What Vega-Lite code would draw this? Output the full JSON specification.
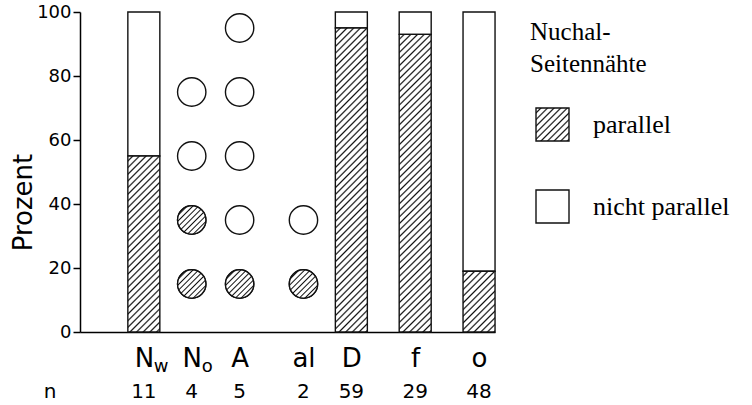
{
"$schema": "https://vega.github.io/schema/vega-lite/v6.json",
"width": 415, "height": 320,
"autosize": "none",
"padding": {"left": 80, "top": 12, "right": 257, "bottom": 73},
"background": "white",
"config": {"view": {"stroke": null}, "font": "DejaVu Sans"},
"datasets": {
"balken": [
{"kat": "N_w", "parallel": 55, "nicht_parallel": 45},
{"kat": "D", "parallel": 95, "nicht_parallel": 5},
{"kat": "f", "parallel": 93, "nicht_parallel": 7},
{"kat": "o", "parallel": 19, "nicht_parallel": 81}
],
"kreise": [
{"kat": "N_o", "wert": 15, "typ": "parallel"},
{"kat": "N_o", "wert": 35, "typ": "parallel"},
{"kat": "N_o", "wert": 55, "typ": "nicht parallel"},
{"kat": "N_o", "wert": 75, "typ": "nicht parallel"},
{"kat": "A", "wert": 15, "typ": "parallel"},
{"kat": "A", "wert": 35, "typ": "nicht parallel"},
{"kat": "A", "wert": 55, "typ": "nicht parallel"},
{"kat": "A", "wert": 75, "typ": "nicht parallel"},
{"kat": "A", "wert": 95, "typ": "nicht parallel"},
{"kat": "al", "wert": 15, "typ": "parallel"},
{"kat": "al", "wert": 35, "typ": "nicht parallel"}
],
"kategorien": [
{"kat": "N_w", "n": 11, "sub": "w"},
{"kat": "N_o", "n": 4, "sub": "o"},
{"kat": "A", "n": 5},
{"kat": "al", "n": 2},
{"kat": "D", "n": 59},
{"kat": "f", "n": 29},
{"kat": "o", "n": 48}
]
},
"encoding": {
"x": {"field": "kat", "type": "nominal",
"scale": {"type": "point", "padding": 0, "domain": ["s0","s1","s2","s3","N_w","s4","s5","N_o","s6","s7","A","s8","s9","s10","al","s11","s12","D","s13","s14","s15","f","s16","s17","s18","o","s19"]},
"axis": {"title": null, "ticks": false, "tickSize": 0, "labelAngle": 0, "labelOverlap": false, "labelFlush": false,
"labelExpr": "datum.value === 'N_w' || datum.value === 'N_o' ? 'N' : (indexof(['A','al','D','f','o'], datum.value) >= 0 ? datum.value : '')",
"labelFont": "DejaVu Sans", "labelFontSize": 26, "labelColor": "#000", "labelPadding": 34, "labelBaseline": "alphabetic",
"domainColor": "#000", "domainWidth": 1.5}}
},
"layer": [
{
"data": {"name": "balken"},
"mark": {"type": "bar", "width": 32, "fill": "#fff", "stroke": "#111", "strokeWidth": 1.4},
"encoding": {
"y": {"field": "parallel", "type": "quantitative", "scale": {"domain": [0, 100]}, "title": "Prozent",
"axis": {"values": [0,10,20,30,40,50,60,70,80,90,100], "grid": false,
"labelExpr": "datum.value % 20 === 0 ? datum.label : ''",
"tickSize": {"condition": {"test": "datum.value % 20 === 0", "value": 7}, "value": 4},
"tickColor": "#000", "tickWidth": 1.5, "domainColor": "#000", "domainWidth": 1.5,
"labelFont": "DejaVu Sans", "labelFontSize": 18, "labelColor": "#000", "labelPadding": 2,
"titleFont": "DejaVu Sans", "titleFontSize": 26, "titleFontWeight": "normal", "titleColor": "#000", "titlePadding": 0, "titleY": 190}},
"y2": {"datum": 100}
}
},
{
"data": {"name": "balken"},
"transform": [{"filter": "datum.kat === 'N_w'"}],
"mark": {"type": "bar", "width": 32, "stroke": "#111", "strokeWidth": 1.4,
"fill": {"gradient": "linear", "x1": 0, "y1": 0, "x2": 0.208, "y2": 1.144, "stops": [
{"offset":0,"color":"#fff"},
{"offset":0.016,"color":"#fff"},{"offset":0.024,"color":"#111"},{"offset":0.032,"color":"#fff"},
{"offset":0.048,"color":"#fff"},{"offset":0.056,"color":"#111"},{"offset":0.064,"color":"#fff"},
{"offset":0.08,"color":"#fff"},{"offset":0.088,"color":"#111"},{"offset":0.096,"color":"#fff"},
{"offset":0.112,"color":"#fff"},{"offset":0.12,"color":"#111"},{"offset":0.128,"color":"#fff"},
{"offset":0.144,"color":"#fff"},{"offset":0.152,"color":"#111"},{"offset":0.16,"color":"#fff"},
{"offset":0.176,"color":"#fff"},{"offset":0.184,"color":"#111"},{"offset":0.192,"color":"#fff"},
{"offset":0.208,"color":"#fff"},{"offset":0.216,"color":"#111"},{"offset":0.224,"color":"#fff"},
{"offset":0.24,"color":"#fff"},{"offset":0.248,"color":"#111"},{"offset":0.256,"color":"#fff"},
{"offset":0.272,"color":"#fff"},{"offset":0.28,"color":"#111"},{"offset":0.288,"color":"#fff"},
{"offset":0.304,"color":"#fff"},{"offset":0.312,"color":"#111"},{"offset":0.32,"color":"#fff"},
{"offset":0.336,"color":"#fff"},{"offset":0.344,"color":"#111"},{"offset":0.352,"color":"#fff"},
{"offset":0.368,"color":"#fff"},{"offset":0.376,"color":"#111"},{"offset":0.384,"color":"#fff"},
{"offset":0.4,"color":"#fff"},{"offset":0.408,"color":"#111"},{"offset":0.416,"color":"#fff"},
{"offset":0.432,"color":"#fff"},{"offset":0.44,"color":"#111"},{"offset":0.448,"color":"#fff"},
{"offset":0.464,"color":"#fff"},{"offset":0.472,"color":"#111"},{"offset":0.48,"color":"#fff"},
{"offset":0.496,"color":"#fff"},{"offset":0.504,"color":"#111"},{"offset":0.512,"color":"#fff"},
{"offset":0.528,"color":"#fff"},{"offset":0.536,"color":"#111"},{"offset":0.544,"color":"#fff"},
{"offset":0.56,"color":"#fff"},{"offset":0.568,"color":"#111"},{"offset":0.576,"color":"#fff"},
{"offset":0.592,"color":"#fff"},{"offset":0.6,"color":"#111"},{"offset":0.608,"color":"#fff"},
{"offset":0.624,"color":"#fff"},{"offset":0.632,"color":"#111"},{"offset":0.64,"color":"#fff"},
{"offset":0.656,"color":"#fff"},{"offset":0.664,"color":"#111"},{"offset":0.672,"color":"#fff"},
{"offset":0.688,"color":"#fff"},{"offset":0.696,"color":"#111"},{"offset":0.704,"color":"#fff"},
{"offset":0.72,"color":"#fff"},{"offset":0.728,"color":"#111"},{"offset":0.736,"color":"#fff"},
{"offset":0.752,"color":"#fff"},{"offset":0.76,"color":"#111"},{"offset":0.768,"color":"#fff"},
{"offset":0.784,"color":"#fff"},{"offset":0.792,"color":"#111"},{"offset":0.8,"color":"#fff"},
{"offset":0.816,"color":"#fff"},{"offset":0.824,"color":"#111"},{"offset":0.832,"color":"#fff"},
{"offset":0.848,"color":"#fff"},{"offset":0.856,"color":"#111"},{"offset":0.864,"color":"#fff"},
{"offset":0.88,"color":"#fff"},{"offset":0.888,"color":"#111"},{"offset":0.896,"color":"#fff"},
{"offset":0.912,"color":"#fff"},{"offset":0.92,"color":"#111"},{"offset":0.928,"color":"#fff"},
{"offset":0.944,"color":"#fff"},{"offset":0.952,"color":"#111"},{"offset":0.96,"color":"#fff"},
{"offset":0.976,"color":"#fff"},{"offset":0.984,"color":"#111"},{"offset":0.992,"color":"#fff"},
{"offset":1,"color":"#fff"}
]}},
"encoding": {
"y": {"field": "parallel", "type": "quantitative", "scale": {"domain": [0, 100]}, "title": "Prozent"}
}
},
{
"data": {"name": "balken"},
"transform": [{"filter": "datum.kat === 'D' || datum.kat === 'f'"}],
"mark": {"type": "bar", "width": 32, "stroke": "#111", "strokeWidth": 1.4,
"fill": {"gradient": "linear", "x1": 0, "y1": 0, "x2": 0.116, "y2": 1.094, "stops": [
{"offset":0,"color":"#fff"},
{"offset":0.01,"color":"#fff"},{"offset":0.015,"color":"#111"},{"offset":0.02,"color":"#fff"},
{"offset":0.03,"color":"#fff"},{"offset":0.035,"color":"#111"},{"offset":0.04,"color":"#fff"},
{"offset":0.05,"color":"#fff"},{"offset":0.055,"color":"#111"},{"offset":0.06,"color":"#fff"},
{"offset":0.07,"color":"#fff"},{"offset":0.075,"color":"#111"},{"offset":0.08,"color":"#fff"},
{"offset":0.09,"color":"#fff"},{"offset":0.095,"color":"#111"},{"offset":0.1,"color":"#fff"},
{"offset":0.11,"color":"#fff"},{"offset":0.115,"color":"#111"},{"offset":0.12,"color":"#fff"},
{"offset":0.13,"color":"#fff"},{"offset":0.135,"color":"#111"},{"offset":0.14,"color":"#fff"},
{"offset":0.15,"color":"#fff"},{"offset":0.155,"color":"#111"},{"offset":0.16,"color":"#fff"},
{"offset":0.17,"color":"#fff"},{"offset":0.175,"color":"#111"},{"offset":0.18,"color":"#fff"},
{"offset":0.19,"color":"#fff"},{"offset":0.195,"color":"#111"},{"offset":0.2,"color":"#fff"},
{"offset":0.21,"color":"#fff"},{"offset":0.215,"color":"#111"},{"offset":0.22,"color":"#fff"},
{"offset":0.23,"color":"#fff"},{"offset":0.235,"color":"#111"},{"offset":0.24,"color":"#fff"},
{"offset":0.25,"color":"#fff"},{"offset":0.255,"color":"#111"},{"offset":0.26,"color":"#fff"},
{"offset":0.27,"color":"#fff"},{"offset":0.275,"color":"#111"},{"offset":0.28,"color":"#fff"},
{"offset":0.29,"color":"#fff"},{"offset":0.295,"color":"#111"},{"offset":0.3,"color":"#fff"},
{"offset":0.31,"color":"#fff"},{"offset":0.315,"color":"#111"},{"offset":0.32,"color":"#fff"},
{"offset":0.33,"color":"#fff"},{"offset":0.335,"color":"#111"},{"offset":0.34,"color":"#fff"},
{"offset":0.35,"color":"#fff"},{"offset":0.355,"color":"#111"},{"offset":0.36,"color":"#fff"},
{"offset":0.37,"color":"#fff"},{"offset":0.375,"color":"#111"},{"offset":0.38,"color":"#fff"},
{"offset":0.39,"color":"#fff"},{"offset":0.395,"color":"#111"},{"offset":0.4,"color":"#fff"},
{"offset":0.41,"color":"#fff"},{"offset":0.415,"color":"#111"},{"offset":0.42,"color":"#fff"},
{"offset":0.43,"color":"#fff"},{"offset":0.435,"color":"#111"},{"offset":0.44,"color":"#fff"},
{"offset":0.45,"color":"#fff"},{"offset":0.455,"color":"#111"},{"offset":0.46,"color":"#fff"},
{"offset":0.47,"color":"#fff"},{"offset":0.475,"color":"#111"},{"offset":0.48,"color":"#fff"},
{"offset":0.49,"color":"#fff"},{"offset":0.495,"color":"#111"},{"offset":0.5,"color":"#fff"},
{"offset":0.51,"color":"#fff"},{"offset":0.515,"color":"#111"},{"offset":0.52,"color":"#fff"},
{"offset":0.53,"color":"#fff"},{"offset":0.535,"color":"#111"},{"offset":0.54,"color":"#fff"},
{"offset":0.55,"color":"#fff"},{"offset":0.555,"color":"#111"},{"offset":0.56,"color":"#fff"},
{"offset":0.57,"color":"#fff"},{"offset":0.575,"color":"#111"},{"offset":0.58,"color":"#fff"},
{"offset":0.59,"color":"#fff"},{"offset":0.595,"color":"#111"},{"offset":0.6,"color":"#fff"},
{"offset":0.61,"color":"#fff"},{"offset":0.615,"color":"#111"},{"offset":0.62,"color":"#fff"},
{"offset":0.63,"color":"#fff"},{"offset":0.635,"color":"#111"},{"offset":0.64,"color":"#fff"},
{"offset":0.65,"color":"#fff"},{"offset":0.655,"color":"#111"},{"offset":0.66,"color":"#fff"},
{"offset":0.67,"color":"#fff"},{"offset":0.675,"color":"#111"},{"offset":0.68,"color":"#fff"},
{"offset":0.69,"color":"#fff"},{"offset":0.695,"color":"#111"},{"offset":0.7,"color":"#fff"},
{"offset":0.71,"color":"#fff"},{"offset":0.715,"color":"#111"},{"offset":0.72,"color":"#fff"},
{"offset":0.73,"color":"#fff"},{"offset":0.735,"color":"#111"},{"offset":0.74,"color":"#fff"},
{"offset":0.75,"color":"#fff"},{"offset":0.755,"color":"#111"},{"offset":0.76,"color":"#fff"},
{"offset":0.77,"color":"#fff"},{"offset":0.775,"color":"#111"},{"offset":0.78,"color":"#fff"},
{"offset":0.79,"color":"#fff"},{"offset":0.795,"color":"#111"},{"offset":0.8,"color":"#fff"},
{"offset":0.81,"color":"#fff"},{"offset":0.815,"color":"#111"},{"offset":0.82,"color":"#fff"},
{"offset":0.83,"color":"#fff"},{"offset":0.835,"color":"#111"},{"offset":0.84,"color":"#fff"},
{"offset":0.85,"color":"#fff"},{"offset":0.855,"color":"#111"},{"offset":0.86,"color":"#fff"},
{"offset":0.87,"color":"#fff"},{"offset":0.875,"color":"#111"},{"offset":0.88,"color":"#fff"},
{"offset":0.89,"color":"#fff"},{"offset":0.895,"color":"#111"},{"offset":0.9,"color":"#fff"},
{"offset":0.91,"color":"#fff"},{"offset":0.915,"color":"#111"},{"offset":0.92,"color":"#fff"},
{"offset":0.93,"color":"#fff"},{"offset":0.935,"color":"#111"},{"offset":0.94,"color":"#fff"},
{"offset":0.95,"color":"#fff"},{"offset":0.955,"color":"#111"},{"offset":0.96,"color":"#fff"},
{"offset":0.97,"color":"#fff"},{"offset":0.975,"color":"#111"},{"offset":0.98,"color":"#fff"},
{"offset":0.99,"color":"#fff"},{"offset":0.995,"color":"#111"},{"offset":1,"color":"#fff"}
]}},
"encoding": {
"y": {"field": "parallel", "type": "quantitative", "scale": {"domain": [0, 100]}, "title": "Prozent"}
}
},
{
"data": {"name": "balken"},
"transform": [{"filter": "datum.kat === 'o'"}],
"mark": {"type": "bar", "width": 32, "stroke": "#111", "strokeWidth": 1.4,
"fill": {"gradient": "linear", "x1": 0, "y1": 0, "x2": 0.629, "y2": 1.195, "stops": [
{"offset":0,"color":"#fff"},
{"offset":0.036,"color":"#fff"},{"offset":0.054,"color":"#111"},{"offset":0.072,"color":"#fff"},
{"offset":0.108,"color":"#fff"},{"offset":0.126,"color":"#111"},{"offset":0.144,"color":"#fff"},
{"offset":0.18,"color":"#fff"},{"offset":0.198,"color":"#111"},{"offset":0.216,"color":"#fff"},
{"offset":0.252,"color":"#fff"},{"offset":0.27,"color":"#111"},{"offset":0.288,"color":"#fff"},
{"offset":0.324,"color":"#fff"},{"offset":0.342,"color":"#111"},{"offset":0.36,"color":"#fff"},
{"offset":0.396,"color":"#fff"},{"offset":0.414,"color":"#111"},{"offset":0.432,"color":"#fff"},
{"offset":0.468,"color":"#fff"},{"offset":0.486,"color":"#111"},{"offset":0.504,"color":"#fff"},
{"offset":0.54,"color":"#fff"},{"offset":0.558,"color":"#111"},{"offset":0.576,"color":"#fff"},
{"offset":0.612,"color":"#fff"},{"offset":0.63,"color":"#111"},{"offset":0.648,"color":"#fff"},
{"offset":0.684,"color":"#fff"},{"offset":0.702,"color":"#111"},{"offset":0.72,"color":"#fff"},
{"offset":0.756,"color":"#fff"},{"offset":0.774,"color":"#111"},{"offset":0.792,"color":"#fff"},
{"offset":0.828,"color":"#fff"},{"offset":0.846,"color":"#111"},{"offset":0.864,"color":"#fff"},
{"offset":0.9,"color":"#fff"},{"offset":0.918,"color":"#111"},{"offset":0.936,"color":"#fff"},
{"offset":0.972,"color":"#fff"},{"offset":0.99,"color":"#111"},{"offset":1,"color":"#fff"}
]}},
"encoding": {
"y": {"field": "parallel", "type": "quantitative", "scale": {"domain": [0, 100]}, "title": "Prozent"}
}
},
{
"data": {"name": "kreise"},
"mark": {"type": "circle", "size": 804, "stroke": "#111", "strokeWidth": 1.4, "opacity": 1},
"encoding": {
"y": {"field": "wert", "type": "quantitative", "scale": {"domain": [0, 100]}, "title": "Prozent"},
"fill": {"field": "typ", "type": "nominal",
"scale": {"domain": ["parallel", "nicht parallel"], "range": ["url(#schraffur_kreis)", "#ffffff"]},
"legend": {"title": ["Nuchal-", "Seitennähte"], "orient": "none", "legendX": 450, "legendY": 8,
"padding": 0, "symbolType": "square", "symbolSize": 1089, "symbolStrokeColor": "#111", "symbolStrokeWidth": 1.4,
"symbolOpacity": 1, "symbolOffset": 5,
"labelFont": "Liberation Serif", "labelFontSize": 26, "labelColor": "#000", "labelOffset": 23,
"rowPadding": 43,
"titleFont": "Liberation Serif", "titleFontSize": 25, "titleFontWeight": "normal", "titleColor": "#000",
"titleLineHeight": 32, "titlePadding": 30}}
}
},
{
"data": {"name": "kreise"},
"transform": [{"filter": "datum.typ === 'parallel'"}],
"mark": {"type": "circle", "size": 804, "stroke": "#111", "strokeWidth": 1.4, "opacity": 1,
"fill": {"gradient": "linear", "id": "schraffur_kreis", "x1": 0, "y1": 0, "x2": 1, "y2": 1, "stops": [
{"offset":0,"color":"#fff"},
{"offset":0.05,"color":"#fff"},{"offset":0.075,"color":"#111"},{"offset":0.1,"color":"#fff"},
{"offset":0.15,"color":"#fff"},{"offset":0.175,"color":"#111"},{"offset":0.2,"color":"#fff"},
{"offset":0.25,"color":"#fff"},{"offset":0.275,"color":"#111"},{"offset":0.3,"color":"#fff"},
{"offset":0.35,"color":"#fff"},{"offset":0.375,"color":"#111"},{"offset":0.4,"color":"#fff"},
{"offset":0.45,"color":"#fff"},{"offset":0.475,"color":"#111"},{"offset":0.5,"color":"#fff"},
{"offset":0.55,"color":"#fff"},{"offset":0.575,"color":"#111"},{"offset":0.6,"color":"#fff"},
{"offset":0.65,"color":"#fff"},{"offset":0.675,"color":"#111"},{"offset":0.7,"color":"#fff"},
{"offset":0.75,"color":"#fff"},{"offset":0.775,"color":"#111"},{"offset":0.8,"color":"#fff"},
{"offset":0.85,"color":"#fff"},{"offset":0.875,"color":"#111"},{"offset":0.9,"color":"#fff"},
{"offset":0.95,"color":"#fff"},{"offset":0.975,"color":"#111"},{"offset":1,"color":"#fff"}
]}},
"encoding": {
"y": {"field": "wert", "type": "quantitative", "scale": {"domain": [0, 100]}, "title": "Prozent"}
}
},
{
"data": {"name": "kategorien"},
"transform": [{"filter": "isValid(datum.sub)"}],
"mark": {"type": "text", "fontSize": 18, "font": "DejaVu Sans", "align": "left", "baseline": "alphabetic", "dx": 10, "dy": 40, "color": "#000"},
"encoding": {
"y": {"datum": 0},
"text": {"field": "sub", "type": "nominal"}
}
},
{
"data": {"name": "kategorien"},
"mark": {"type": "text", "fontSize": 20, "font": "DejaVu Sans", "align": "center", "baseline": "alphabetic", "dy": 66, "color": "#000"},
"encoding": {
"y": {"datum": 0},
"text": {"field": "n", "type": "nominal"}
}
},
{
"data": {"values": [{}]},
"mark": {"type": "text", "fontSize": 20, "font": "DejaVu Sans", "align": "center", "baseline": "alphabetic", "dx": -30, "dy": 66, "color": "#000", "text": "n"},
"encoding": {
"x": {"datum": "s0", "type": "nominal"},
"y": {"datum": 0}
}
}
]
}
